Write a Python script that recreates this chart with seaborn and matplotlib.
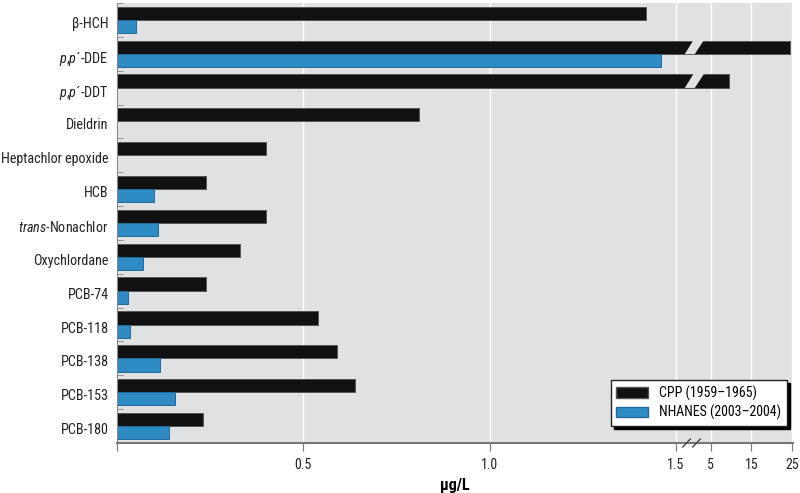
import numpy as np
import pandas as pd
import matplotlib.pyplot as plt
from matplotlib import font_manager
from matplotlib.patches import Patch
from matplotlib.transforms import ScaledTranslation
import seaborn as sns

# Données (µg/L)
compounds = ["β-HCH", r"$\mathit{p}$,$\mathit{p}$´-DDE", r"$\mathit{p}$,$\mathit{p}$´-DDT", "Dieldrin",
             "Heptachlor epoxide", "HCB", r"$\mathit{trans}$-Nonachlor", "Oxychlordane",
             "PCB-74", "PCB-118", "PCB-138", "PCB-153", "PCB-180"]
cpp = [1.42, 24.5, 9.4, 0.81, 0.40, 0.24, 0.40, 0.33, 0.24, 0.54, 0.59, 0.64, 0.23]
nhanes = [0.05, 1.46, np.nan, np.nan, np.nan, 0.10, 0.11, 0.07, 0.03, 0.035, 0.115, 0.155, 0.14]
surveys = ["CPP (1959–1965)", "NHANES (2003–2004)"]
xticks = [0, 0.5, 1.0, 1.5, 5, 15, 25]
xticklabels = ["", "0.5", "1.0", "1.5", "5", "15", "25"]

palette = {surveys[0]: "#111111", surveys[1]: "#2f8bc4"}
edges = {surveys[0]: "#555555", surveys[1]: "#1f6a9a"}
bg = "#e0e1e3"

# police condensée si disponible
fonts = font_manager.fontManager.ttflist
names = {f.name for f in fonts}
font, stretch = "Liberation Sans", "normal"
for cand in ["Liberation Sans Narrow", "Roboto Condensed", "Open Sans Condensed"]:
    if cand in names:
        font = cand
        break
else:
    for cand in ["Noto Sans", "Open Sans", "Roboto"]:
        if any(f.name == cand and "condensed" in str(f.stretch) for f in fonts):
            font, stretch = cand, "condensed"
            break
narrow = font != "Liberation Sans"
plt.rcParams["font.family"] = [font, "DejaVu Sans"]
plt.rcParams["font.stretch"] = stretch
plt.rcParams["mathtext.fontset"] = "custom"
plt.rcParams["mathtext.rm"] = font
plt.rcParams["mathtext.it"] = font + ":italic"

# échelle à axe brisé : linéaire jusqu'à 1.5, coupure, puis 5-25 compressé
GAP = 35 / 372.5
K = 4.05 / 372.5


def fwd(x):
    x = np.asarray(x, dtype=float)
    return np.where(x <= 1.5, x,
                    np.where(x < 5, 1.5 + (x - 1.5) * GAP / 3.5,
                             1.5 + GAP + (x - 5) * K))


def inv(y):
    y = np.asarray(y, dtype=float)
    return np.where(y <= 1.5, y,
                    np.where(y < 1.5 + GAP, 1.5 + (y - 1.5) * 3.5 / GAP,
                             5 + (y - 1.5 - GAP) / K))


df = pd.DataFrame({"compound": compounds * 2,
                   "survey": [surveys[0]] * len(compounds) + [surveys[1]] * len(compounds),
                   "value": cpp + nhanes})

fig = plt.figure(figsize=(8, 4.93), dpi=100)
ax = fig.add_axes([117 / 800, 50 / 493, 676 / 800, 440 / 493])
ax.set_facecolor(bg)

sns.barplot(data=df, y="compound", x="value", hue="survey", order=compounds,
            hue_order=surveys, palette=palette, saturation=1, orient="h", width=0.78,
            errorbar=None, legend=False, linewidth=0.7, ax=ax, zorder=2)

for cont, s in zip(ax.containers, surveys):
    for bar in cont:
        bar.set_edgecolor(edges[s])

ax.set_xscale("function", functions=(fwd, inv))
ax.set_xlim(0, 25.3)
ax.set_xticks(xticks, xticklabels)
ax.set_ylim(12.5, -0.5)

# coupure oblique dans les barres qui dépassent 5
for bar in ax.containers[0]:
    if bar.get_width() > 5:
        y0 = bar.get_y() - 0.03
        y1 = bar.get_y() + bar.get_height() + 0.01
        ax.fill([2.4, 3.4, 4.35, 3.3], [y1, y1, y0, y0], color=bg, lw=0, zorder=4)

# marques de coupure sur l'axe x
tr = ax.get_xaxis_transform()
for x0 in (2.2, 3.2):
    ax.plot([x0, x0 + 0.75], [-0.009, 0.009], color="#444444", lw=1,
            transform=tr, clip_on=False, zorder=5)

ax.grid(axis="x", color="white", lw=1)
ax.set_axisbelow(True)

ax.spines["top"].set_visible(False)
ax.spines["right"].set_visible(False)
ax.spines["left"].set_color("#888888")
ax.spines["bottom"].set_color("#777777")
ax.spines["bottom"].set_linewidth(1.5)

ylab = 10.2 if narrow else 9.5
ax.tick_params(axis="y", which="major", length=0, pad=6, labelsize=ylab, labelcolor="#222222")
ax.set_yticks(np.arange(-0.5, len(compounds), 1), minor=True)
ax.tick_params(axis="y", which="minor", length=4, direction="in", color="#888888")
ax.tick_params(axis="x", length=6, color="#777777", labelsize=10 if narrow else 9.5,
               labelcolor="#222222", pad=5)

# étiquettes légèrement sous le centre des paires de barres
shift = ScaledTranslation(0, -2.5 / 100, fig.dpi_scale_trans)
for lab in ax.get_yticklabels():
    lab.set_transform(lab.get_transform() + shift)

ax.set_ylabel("")
ax.set_xlabel("µg/L", fontsize=11.5, fontweight="bold", labelpad=4)

handles = [Patch(facecolor=palette[s], edgecolor=edges[s], label=s) for s in surveys]
ax.legend(handles=handles, loc="lower right", bbox_to_anchor=(0.991, 0.039),
          borderaxespad=0, fancybox=False, framealpha=1, edgecolor="#222222",
          shadow={"color": "black", "alpha": 1}, fontsize=10 if narrow else 9.5,
          handlelength=2.3, handleheight=0.75, labelspacing=0.3)

plt.savefig("out.png", dpi=100)
